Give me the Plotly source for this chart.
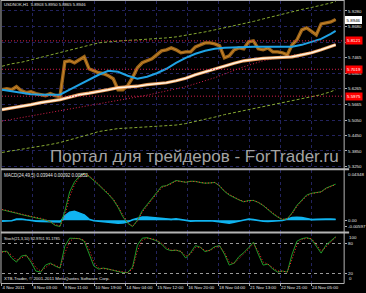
import plotly.graph_objects as go

# ---------------- data ----------------
symbol_label = "USDNOK,H1  5.8903 5.8950 5.8865 5.8946"
macd_label = "MACD(24,49,5) 0.03944 0.00092 0.00852"
stoch_label = "Stoch(21,3,10) 92.9701 91.1785"
copyright_label = "XTB-Trader, \u00a9 2001-2011 MetaQuotes Software Corp."
watermark = "Портал для трейдеров - ForTrader.ru"

time_ticks = [0, 32, 64, 96, 128, 160, 192, 224, 256, 288, 320]
time_labels = ["4 Nov 2011", "8 Nov 03:00", "9 Nov 11:00", "10 Nov 19:00", "14 Nov 04:00",
               "15 Nov 12:00", "16 Nov 20:00", "18 Nov 04:00", "21 Nov 13:00",
               "22 Nov 21:00", "24 Nov 05:00"]

# the 5.8075 label is hidden under a level box in the original
price_ticks = [5.9280, 5.8680, 5.8075, 5.7465, 5.6865, 5.6265, 5.5665, 5.5050, 5.4450, 5.3850, 5.3250]
price_tick_labels = ["5.9280", "5.8680", "", "5.7465", "5.6865", "5.6265", "5.5665",
                     "5.5050", "5.4450", "5.3850", "5.3250"]

# bar index (H1 bars) of sampled points
bars = list(range(0, 350, 5))

price_close = [5.6227, 5.6265, 5.6227, 5.6343, 5.6188, 5.6111, 5.6149, 5.6072, 5.6033, 5.5995,
               5.6072, 5.5995, 5.5956, 5.7309, 5.7348, 5.7270, 5.7386, 5.7502, 5.7038, 5.6961,
               5.6884, 5.6845, 5.6768, 5.6652, 5.6227, 5.6227, 5.6381, 5.6690, 5.7077, 5.7270,
               5.7348, 5.7425, 5.7579, 5.7734, 5.7773, 5.7850, 5.7773, 5.7657, 5.7695, 5.7695,
               5.7889, 5.7966, 5.8043, 5.8043, 5.8005, 5.7927, 5.7463, 5.7541, 5.7773, 5.7850,
               5.7811, 5.8082, 5.8121, 5.7811, 5.7773, 5.7850, 5.7695, 5.7695, 5.7657, 5.7579,
               5.7966, 5.8159, 5.8546, 5.8623, 5.8507, 5.8352, 5.8778, 5.8816, 5.8855, 5.8946]

ma_bars = [0, 10, 20, 30, 40, 50, 60, 70, 80, 90, 100, 110, 120, 130, 140, 150, 160, 170,
           180, 190, 200, 210, 220, 230, 240, 250, 260, 270, 280, 290, 300, 310, 320, 330, 340, 345]

ma_fast = [5.6227, 5.6169, 5.6111, 5.6053, 5.6033, 5.6033, 5.6033, 5.6227, 5.6420, 5.6613,
           5.6806, 5.6961, 5.6922, 5.6768, 5.6652, 5.6729, 5.6864, 5.7038, 5.7270, 5.7463,
           5.7618, 5.7734, 5.7811, 5.7850, 5.7869, 5.7889, 5.7889, 5.7889, 5.7889, 5.7889,
           5.7889, 5.7966, 5.8082, 5.8198, 5.8391, 5.8507]

ma_slow = [5.5454, 5.5512, 5.5570, 5.5647, 5.5724, 5.5782, 5.5840, 5.5937, 5.6033, 5.6091,
           5.6149, 5.6227, 5.6304, 5.6323, 5.6362, 5.6420, 5.6459, 5.6497, 5.6574, 5.6671,
           5.6806, 5.6922, 5.7038, 5.7154, 5.7251, 5.7347, 5.7405, 5.7444, 5.7463, 5.7483,
           5.7502, 5.7579, 5.7657, 5.7773, 5.7889, 5.7966]

env_upper = [5.7135, 5.7232, 5.7290, 5.7386, 5.7483, 5.7560, 5.7657, 5.7753, 5.7850, 5.7947,
             5.8043, 5.8082, 5.8120, 5.8140, 5.8159, 5.8178, 5.8198, 5.8236, 5.8275, 5.8333,
             5.8410, 5.8468, 5.8546, 5.8623, 5.8700, 5.8778, 5.8874, 5.8971, 5.9067, 5.9164,
             5.9241, 5.9338, 5.9415, 5.9493, 5.9589, 5.9647]

env_lower = [5.3792, 5.3850, 5.3908, 5.3966, 5.4024, 5.4101, 5.4178, 5.4275, 5.4371, 5.4487,
             5.4603, 5.4661, 5.4719, 5.4739, 5.4758, 5.4777, 5.4797, 5.4816, 5.4855, 5.4913,
             5.4990, 5.5067, 5.5164, 5.5260, 5.5338, 5.5415, 5.5492, 5.5570, 5.5647, 5.5724,
             5.5801, 5.5879, 5.5937, 5.6033, 5.6149, 5.6227]

ma_red_bars = [0, 50, 100, 150, 190, 220, 250, 270, 290, 310, 330, 345]
ma_red = [5.5009, 5.5338, 5.5686, 5.6014, 5.6343, 5.6690, 5.7116, 5.7347, 5.7502, 5.7618,
          5.7773, 5.8005]

levels = [5.8121, 5.7019, 5.5975]
level_labels = ["5.8121", "5.7019", "5.5975"]
last_price = 5.8946

macd_main = [0.0098, 0.0089, 0.0079, 0.0065, 0.0053, 0.0042, 0.0031, 0.0024, 0.0016, 0.0002,
             -0.0015, -0.0048, -0.0058, 0.0083, 0.0264, 0.0356, 0.0407, 0.0435, 0.0407, 0.0370,
             0.0328, 0.0282, 0.0241, 0.0190, 0.0120, 0.0032, -0.0028, -0.0059, 0.0000, 0.0088,
             0.0143, 0.0201, 0.0256, 0.0314, 0.0321, 0.0342, 0.0369, 0.0361, 0.0352, 0.0362,
             0.0361, 0.0350, 0.0344, 0.0346, 0.0351, 0.0317, 0.0268, 0.0234, 0.0209, 0.0189,
             0.0171, 0.0183, 0.0184, 0.0165, 0.0137, 0.0098, 0.0061, 0.0030, 0.0006, 0.0015,
             0.0068, 0.0139, 0.0182, 0.0234, 0.0250, 0.0255, 0.0264, 0.0298, 0.0316, 0.0335]

macd_signal = [0.0100, 0.0092, 0.0082, 0.0069, 0.0057, 0.0045, 0.0034, 0.0026, 0.0018, 0.0005,
               -0.0010, -0.0040, -0.0052, 0.0040, 0.0220, 0.0330, 0.0395, 0.0428, 0.0412, 0.0378,
               0.0336, 0.0290, 0.0249, 0.0199, 0.0132, 0.0048, -0.0018, -0.0055, -0.0010, 0.0075,
               0.0133, 0.0191, 0.0246, 0.0303, 0.0320, 0.0338, 0.0364, 0.0362, 0.0354, 0.0360,
               0.0360, 0.0352, 0.0345, 0.0346, 0.0350, 0.0322, 0.0276, 0.0240, 0.0213, 0.0192,
               0.0174, 0.0181, 0.0184, 0.0168, 0.0141, 0.0104, 0.0067, 0.0035, 0.0009, 0.0013,
               0.0060, 0.0128, 0.0176, 0.0226, 0.0247, 0.0254, 0.0262, 0.0293, 0.0313, 0.0332]

macd_hist = [-0.0008, -0.0006, -0.0004, 0.0010, 0.0012, 0.0004, -0.0004, -0.0008, -0.0010, -0.0010,
             -0.0012, -0.0014, -0.0016, 0.0040, 0.0075, 0.0083, 0.0070, 0.0050, 0.0010, -0.0004,
             -0.0010, -0.0016, -0.0022, -0.0026, -0.0028, -0.0024, -0.0016, 0.0004, 0.0020, 0.0030,
             0.0030, 0.0026, 0.0020, 0.0012, 0.0010, 0.0008, 0.0014, 0.0006, -0.0006, -0.0008,
             -0.0006, -0.0004, -0.0006, -0.0004, -0.0008, -0.0014, -0.0022, -0.0028, -0.0018, -0.0008,
             0.0004, 0.0012, 0.0006, -0.0004, -0.0010, -0.0012, -0.0010, -0.0008, -0.0002, 0.0012,
             0.0024, 0.0028, 0.0026, 0.0016, 0.0006, 0.0008, 0.0012, 0.0010, 0.0010, 0.00092]

stoch_main = [63, 64, 50, 42, 54, 56, 42, 24, 22, 36, 40, 34, 30, 74, 90, 90, 89, 84, 60, 34,
              28, 30, 28, 25, 23, 21, 21, 32, 76, 90, 91, 88, 85, 78, 68, 65, 66, 63, 50, 61,
              75, 72, 63, 66, 73, 75, 58, 36, 40, 53, 61, 71, 82, 58, 36, 38, 28, 22, 24, 22,
              58, 84, 89, 91, 88, 74, 60, 76, 85, 92.97]

stoch_signal = [62, 63, 56, 46, 50, 55, 47, 31, 24, 31, 38, 36, 31, 60, 84, 90, 89, 86, 68, 42,
                30, 29, 28, 26, 24, 22, 21, 28, 64, 86, 90, 89, 86, 80, 71, 66, 66, 64, 54, 58,
                71, 72, 65, 65, 71, 74, 62, 42, 39, 49, 58, 68, 79, 64, 42, 38, 31, 24, 24, 22,
                48, 77, 87, 90, 89, 78, 64, 72, 82, 91.18]

stoch_levels = [80, 20]

# ---------------- layout helpers ----------------
W, H = 366, 293


def px_x(p):
    return p / W


def px_y(p):
    return 1 - p / H


x_dom = [px_x(2), px_x(347)]
main_dom = [px_y(169), px_y(1)]
macd_dom = [px_y(233), px_y(171)]
stoch_dom = [px_y(284), px_y(234)]

FONT = "Liberation Sans"
TXT = "#e6e6e6"
GRID = "#23235e"

fig = go.Figure()

# price
fig.add_trace(go.Scatter(x=bars, y=price_close, mode="lines",
                         line=dict(color="#9c6419", width=3.4), xaxis="x", yaxis="y"))
fig.add_trace(go.Scatter(x=bars, y=price_close, mode="lines",
                         line=dict(color="#c8862c", width=1), xaxis="x", yaxis="y"))
# envelopes
for env in (env_upper, env_lower):
    fig.add_trace(go.Scatter(x=ma_bars, y=env, mode="lines",
                             line=dict(color="#86a832", width=1, dash="3px,2px"),
                             xaxis="x", yaxis="y"))
# red dotted MA
fig.add_trace(go.Scatter(x=ma_red_bars, y=ma_red, mode="lines",
                         line=dict(color="#d8204c", width=1, dash="1px,2px"),
                         xaxis="x", yaxis="y"))
# slow MA (white/cream)
fig.add_trace(go.Scatter(x=ma_bars, y=ma_slow, mode="lines",
                         line=dict(color="#e89a5a", width=3.2), xaxis="x", yaxis="y"))
fig.add_trace(go.Scatter(x=ma_bars, y=ma_slow, mode="lines",
                         line=dict(color="#fff4e2", width=1.6), xaxis="x", yaxis="y"))
# fast MA (blue)
fig.add_trace(go.Scatter(x=ma_bars, y=ma_fast, mode="lines",
                         line=dict(color="#1fa2e4", width=2), xaxis="x", yaxis="y"))

# MACD
fig.add_trace(go.Scatter(x=bars, y=macd_hist, mode="lines", fill="tozeroy",
                         fillcolor="#10b4f0", line=dict(color="#10b4f0", width=1.6),
                         xaxis="x2", yaxis="y2"))
fig.add_trace(go.Scatter(x=bars, y=macd_main, mode="lines",
                         line=dict(color="#1e9a28", width=1), xaxis="x2", yaxis="y2"))
fig.add_trace(go.Scatter(x=bars, y=macd_signal, mode="lines",
                         line=dict(color="#ff2a2a", width=1, dash="1px,2px"),
                         xaxis="x2", yaxis="y2"))

# Stochastic
fig.add_trace(go.Scatter(x=bars, y=stoch_main, mode="lines",
                         line=dict(color="#1e9a28", width=1), xaxis="x3", yaxis="y3"))
fig.add_trace(go.Scatter(x=bars, y=stoch_signal, mode="lines",
                         line=dict(color="#ff2a2a", width=1, dash="1px,2px"),
                         xaxis="x3", yaxis="y3"))

xcommon = dict(domain=x_dom, range=[0, 353.8], tickvals=time_ticks, showgrid=True,
               gridcolor=GRID, griddash="dot", gridwidth=1, zeroline=False, showline=False,
               fixedrange=True)

fig.update_layout(
    width=W, height=H, margin=dict(l=0, r=0, t=0, b=0),
    paper_bgcolor="black", plot_bgcolor="black", showlegend=False,
    font=dict(family=FONT, size=4.4, color=TXT),
    xaxis=dict(**xcommon, anchor="y", showticklabels=False),
    xaxis2=dict(**xcommon, anchor="y2", matches="x", showticklabels=False),
    xaxis3=dict(**xcommon, anchor="y3", matches="x", showticklabels=True,
                ticktext=time_labels, ticks="outside", ticklen=2, tickcolor="#b0b0b0",
                ticklabelposition="outside right", tickangle=0, automargin=False,
                tickfont=dict(family=FONT, size=4.4, color=TXT)),
    yaxis=dict(domain=main_dom, anchor="x", side="right",
               range=[5.31733, 5.96665], tickvals=price_ticks, ticktext=price_tick_labels,
               showgrid=True, gridcolor=GRID, griddash="dot", zeroline=False,
               ticks="outside", ticklen=2, tickcolor="#b0b0b0",
               tickfont=dict(family=FONT, size=4.4, color=TXT)),
    yaxis2=dict(domain=macd_dom, anchor="x2", side="right",
                range=[-0.0111, 0.04625], tickvals=[0, -0.00597], ticktext=["0.00", "-0.00597"],
                showgrid=False, zeroline=False, ticks="outside", ticklen=2, tickcolor="#b0b0b0",
                tickfont=dict(family=FONT, size=4.4, color=TXT)),
    yaxis3=dict(domain=stoch_dom, anchor="x3", side="right",
                range=[0, 100], tickvals=stoch_levels, ticktext=[str(v) for v in stoch_levels],
                showgrid=True, gridcolor="#9a9a9a", griddash="dot", zeroline=False,
                ticks="outside", ticklen=2, tickcolor="#b0b0b0",
                tickfont=dict(family=FONT, size=4.4, color=TXT)),
)

shapes = []
# red horizontal levels
for lv in levels:
    shapes.append(dict(type="line", xref="x domain", x0=0, x1=1, yref="y", y0=lv, y1=lv,
                       line=dict(color="#d8204c", width=1, dash="1px,2px")))
# frame & separators
grey = "#b4b4b4"
shapes += [
    dict(type="line", xref="paper", yref="paper", x0=px_x(1), x1=px_x(1), y0=px_y(0), y1=px_y(284.5),
         line=dict(color=grey, width=1)),
    dict(type="line", xref="paper", yref="paper", x0=px_x(1), x1=px_x(347), y0=px_y(0.5), y1=px_y(0.5),
         line=dict(color=grey, width=1)),
    dict(type="line", xref="paper", yref="paper", x0=px_x(347), x1=px_x(347), y0=px_y(0), y1=px_y(284.5),
         line=dict(color=grey, width=1)),
    dict(type="line", xref="paper", yref="paper", x0=px_x(1), x1=px_x(352), y0=px_y(169.8), y1=px_y(169.8),
         line=dict(color=grey, width=2)),
    dict(type="line", xref="paper", yref="paper", x0=px_x(1), x1=px_x(352), y0=px_y(233.3), y1=px_y(233.3),
         line=dict(color=grey, width=2)),
    dict(type="line", xref="paper", yref="paper", x0=px_x(1), x1=px_x(347), y0=px_y(284.5), y1=px_y(284.5),
         line=dict(color=grey, width=1)),
]
fig.update_layout(shapes=shapes)

ann = []
ann.append(dict(text=watermark, xref="paper", yref="paper", x=px_x(196), y=px_y(157.5),
                xanchor="center", yanchor="middle", showarrow=False,
                font=dict(family=FONT, size=17, color="#a4a4a4")))
ann.append(dict(text=symbol_label, xref="paper", yref="paper", x=px_x(2), y=px_y(5),
                xanchor="left", yanchor="middle", showarrow=False,
                font=dict(family=FONT, size=4.2, color=TXT)))
ann.append(dict(text=macd_label, xref="paper", yref="paper", x=px_x(2), y=px_y(176),
                xanchor="left", yanchor="middle", showarrow=False,
                font=dict(family=FONT, size=4.5, color=TXT)))
ann.append(dict(text=stoch_label, xref="paper", yref="paper", x=px_x(2), y=px_y(239.5),
                xanchor="left", yanchor="middle", showarrow=False,
                font=dict(family=FONT, size=3.9, color=TXT)))
ann.append(dict(text=copyright_label, xref="paper", yref="paper", x=px_x(2), y=px_y(279.5),
                xanchor="left", yanchor="middle", showarrow=False,
                font=dict(family=FONT, size=4.4, color=TXT)))
# edge labels of the indicator windows
ann.append(dict(text="0.04348", xref="paper", yref="y2 domain", x=px_x(349), y=1,
                xanchor="left", yanchor="top", showarrow=False,
                font=dict(family=FONT, size=4.4, color=TXT)))
ann.append(dict(text="100", xref="paper", yref="y3", x=px_x(350), y=100,
                xanchor="left", yanchor="top", showarrow=False,
                font=dict(family=FONT, size=4.4, color=TXT)))
ann.append(dict(text="0", xref="paper", yref="y3", x=px_x(350), y=0,
                xanchor="left", yanchor="bottom", showarrow=False,
                font=dict(family=FONT, size=4.4, color=TXT)))
# red level boxes
for lv, lab in zip(levels, level_labels):
    ann.append(dict(text=lab, xref="paper", yref="y", x=px_x(347.5), y=lv,
                    xanchor="left", yanchor="middle", showarrow=False,
                    bgcolor="#ff0000", borderpad=1,
                    font=dict(family=FONT, size=4.4, color="white")))
# current price box
ann.append(dict(text=f"{last_price:.4f}", xref="paper", yref="y", x=px_x(347.5), y=last_price,
                xanchor="left", yanchor="middle", showarrow=False,
                bgcolor="white", bordercolor="white", borderpad=0.6,
                font=dict(family=FONT, size=4.4, color="black")))
fig.update_layout(annotations=ann)

fig.write_html("out.html")
